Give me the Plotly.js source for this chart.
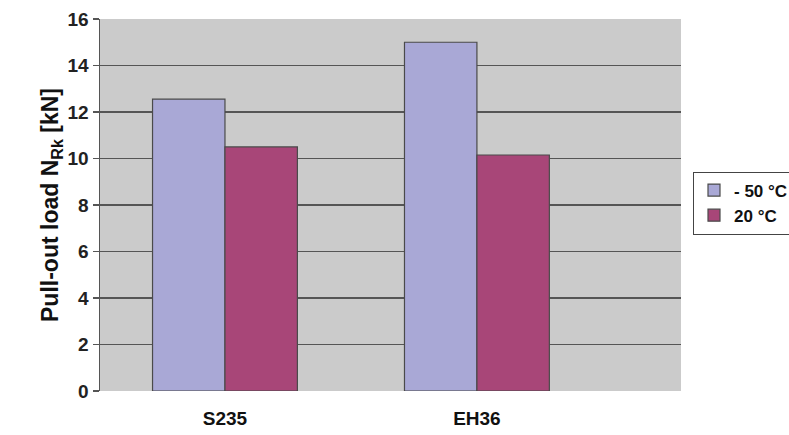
<!DOCTYPE html>
<html>
<head>
<meta charset="utf-8">
<script src="https://cdn.plot.ly/plotly-3.0.1.min.js"></script>
<style>html,body{margin:0;padding:0;background:#fff;}#chart{width:789px;height:435px;}</style>
</head>
<body>
<div id="chart"></div>
<script>
const categories = ["S235", "EH36"];
const seriesNames = ["- 50 °C", "20 °C"];
const coldValues = [12.55, 15.0];
const warmValues = [10.5, 10.15];
const yTickVals = [0, 2, 4, 6, 8, 10, 12, 14, 16];
const gridVals = [2, 4, 6, 8, 10, 12, 14];

const font = "Liberation Sans, Arial, sans-serif";
const traces = [
  {type: "bar", x: categories, y: coldValues, name: seriesNames[0],
   marker: {color: "#a9a8d6", line: {color: "#4a4a4a", width: 1.2}}},
  {type: "bar", x: categories, y: warmValues, name: seriesNames[1],
   marker: {color: "#a84678", line: {color: "#4a4a4a", width: 1.2}}}
];

const layout = {
  width: 789, height: 435,
  margin: {l: 100, r: 108, t: 19, b: 44, autoexpand: false},
  paper_bgcolor: "#ffffff",
  plot_bgcolor: "#cbcbcb",
  barmode: "group",
  bargap: 0.425,
  bargroupgap: 0,
  font: {family: font, color: "#111"},
  xaxis: {
    type: "category", range: [-0.496, 1.81],
    showgrid: false, zeroline: false, showline: false, ticks: "",
    tickfont: {family: font, size: 19, color: "#111", weight: "bold"},
    ticklabelstandoff: 14
  },
  yaxis: {
    range: [0, 16], tickmode: "array", tickvals: yTickVals, ticktext: yTickVals.map(String),
    showgrid: false, zeroline: false,
    showline: true, linecolor: "#555", linewidth: 1.5,
    ticks: "outside", ticklen: 6, tickcolor: "#555", tickwidth: 1.5,
    tickfont: {family: font, size: 19, color: "#222", weight: "bold"},
    minor: {tickmode: "array", tickvals: gridVals, showgrid: true,
            gridcolor: "#555", gridwidth: 1.5, ticks: ""},
    title: {text: "Pull-out load N<sub>Rk</sub> [kN]", standoff: 2,
            font: {family: font, size: 23, color: "#111", weight: "bold"}}
  },
  legend: {
    x: (693 - 100) / (789 - 100 - 108), xanchor: "left",
    y: (391 - 203) / 372, yanchor: "middle",
    bgcolor: "#ffffff", bordercolor: "#444", borderwidth: 1,
    font: {family: font, size: 17, color: "#111", weight: "bold"},
    itemwidth: 30, tracegroupgap: 2
  },
  showlegend: true
};

Plotly.newPlot("chart", traces, layout, {displayModeBar: false, staticPlot: true});
</script>
</body>
</html>
